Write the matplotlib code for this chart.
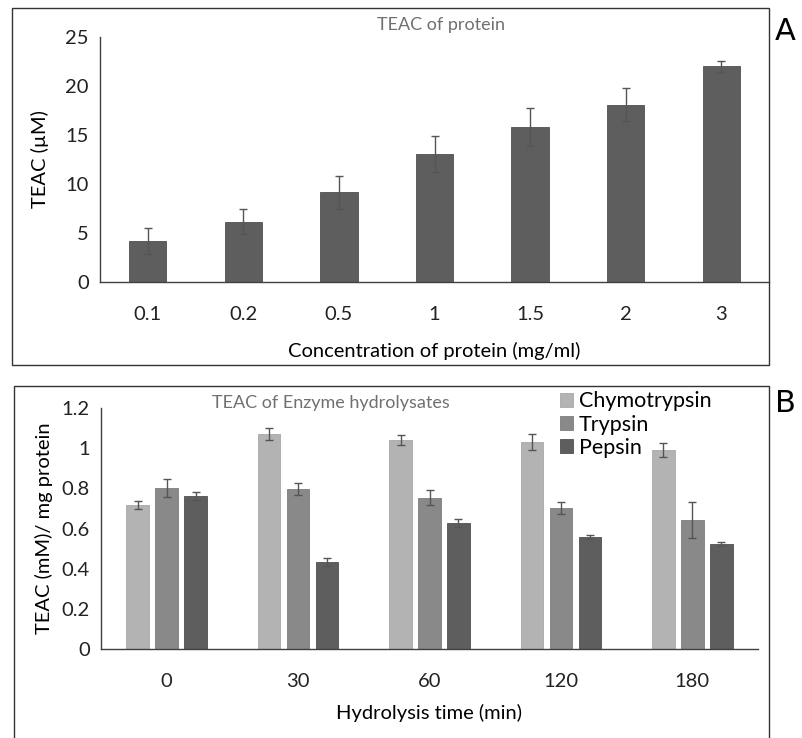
import numpy as np
import matplotlib.pyplot as plt
from matplotlib.patches import Rectangle

plt.rcParams['font.family'] = ['Lato', 'DejaVu Sans']

# panel A data
conc_labels = ['0.1', '0.2', '0.5', '1', '1.5', '2', '3']
teac_protein = [4.2, 6.15, 9.15, 13.05, 15.85, 18.1, 22.0]
teac_protein_err = [1.3, 1.3, 1.65, 1.85, 1.95, 1.65, 0.55]

# panel B data
time_labels = ['0', '30', '60', '120', '180']
chymo = [0.717, 1.071, 1.040, 1.032, 0.991]
chymo_err = [0.02, 0.03, 0.025, 0.04, 0.033]
trypsin = [0.80, 0.797, 0.754, 0.70, 0.642]
trypsin_err = [0.045, 0.03, 0.037, 0.03, 0.09]
pepsin = [0.76, 0.432, 0.626, 0.559, 0.521]
pepsin_err = [0.02, 0.02, 0.02, 0.01, 0.01]

W, H = 802, 738
fig = plt.figure(figsize=(W/100, H/100), dpi=100)

def fx(px):
    return px / W

def fy(py):
    return 1 - py / H

# panel frames
for x0, y0, x1, y1 in [(12, 8, 769, 365), (14, 386, 769, 760)]:
    fig.patches.append(Rectangle((fx(x0), fy(y1)), fx(x1) - fx(x0), fy(y0) - fy(y1),
                                 transform=fig.transFigure, fill=False,
                                 edgecolor='#333333', linewidth=1.0))

axis_col = '#404040'
fs = 14.5

# ---- panel A ----
axA = fig.add_axes([fx(100), fy(282), fx(769) - fx(100), fy(37) - fy(282)])
x = np.arange(len(conc_labels))
axA.bar(x, teac_protein, width=0.39, color='#5e5e5e', edgecolor='#505050', linewidth=0.6)
axA.errorbar(x, teac_protein, yerr=teac_protein_err, fmt='none', ecolor='#555555',
             elinewidth=1.0, capsize=3, capthick=1.0)
axA.set_xlim(-0.5, len(conc_labels) - 0.5)
axA.set_ylim(0, 25)
axA.set_yticks([0, 5, 10, 15, 20, 25])
axA.set_xticks(x)
axA.set_xticklabels(conc_labels)
axA.set_ylabel('TEAC (µM)', fontsize=fs, labelpad=12)
axA.set_xlabel('Concentration of protein (mg/ml)', fontsize=fs, labelpad=14)
axA.text(0.51, 1.05, 'TEAC of protein', transform=axA.transAxes,
         ha='center', va='center', fontsize=13, color='#707070')

# ---- panel B ----
axB = fig.add_axes([fx(101), fy(649), fx(758) - fx(101), fy(408) - fy(649)])
xt = np.arange(len(time_labels))
bw = 0.172
off = 0.22
axB.bar(xt - off, chymo, width=bw, color='#b3b3b3', edgecolor='#a8a8a8', linewidth=0.6,
        label='Chymotrypsin')
axB.bar(xt, trypsin, width=bw, color='#898989', edgecolor='#7d7d7d', linewidth=0.6,
        label='Trypsin')
axB.bar(xt + off, pepsin, width=bw, color='#5e5e5e', edgecolor='#505050', linewidth=0.6,
        label='Pepsin')
for pos, vals, errs in [(xt - off, chymo, chymo_err), (xt, trypsin, trypsin_err),
                        (xt + off, pepsin, pepsin_err)]:
    axB.errorbar(pos, vals, yerr=errs, fmt='none', ecolor='#555555',
                 elinewidth=1.0, capsize=3, capthick=1.0)
axB.set_xlim(-0.5, len(time_labels) - 0.5)
axB.set_ylim(0, 1.2)
axB.set_yticks([0, 0.2, 0.4, 0.6, 0.8, 1.0, 1.2])
axB.set_yticklabels(['0', '0.2', '0.4', '0.6', '0.8', '1', '1.2'])
axB.set_xticks(xt)
axB.set_xticklabels(time_labels)
axB.set_ylabel('TEAC (mM)/ mg protein', fontsize=fs, labelpad=6)
axB.set_xlabel('Hydrolysis time (min)', fontsize=fs, labelpad=10)
axB.text(0.35, 1.02, 'TEAC of Enzyme hydrolysates', transform=axB.transAxes,
         ha='center', va='center', fontsize=13, color='#707070')
axB.legend(loc='upper left', bbox_to_anchor=(0.685, 1.105), frameon=False,
           fontsize=15.5, handlelength=0.6, handleheight=0.6, handletextpad=0.3,
           labelspacing=0.15, borderaxespad=0)

for ax in (axA, axB):
    for s in ('top', 'right'):
        ax.spines[s].set_visible(False)
    for s in ('left', 'bottom'):
        ax.spines[s].set_color(axis_col)
        ax.spines[s].set_linewidth(1.0)
    ax.tick_params(length=0, labelsize=fs, colors='#222222', pad=8)
    ax.tick_params(axis='x', pad=17)

fig.text(fx(785), fy(32), 'A', fontsize=22, ha='center', va='center', family='DejaVu Sans')
fig.text(fx(785), fy(404), 'B', fontsize=22, ha='center', va='center', family='DejaVu Sans')

fig.savefig('out.png', dpi=100)
